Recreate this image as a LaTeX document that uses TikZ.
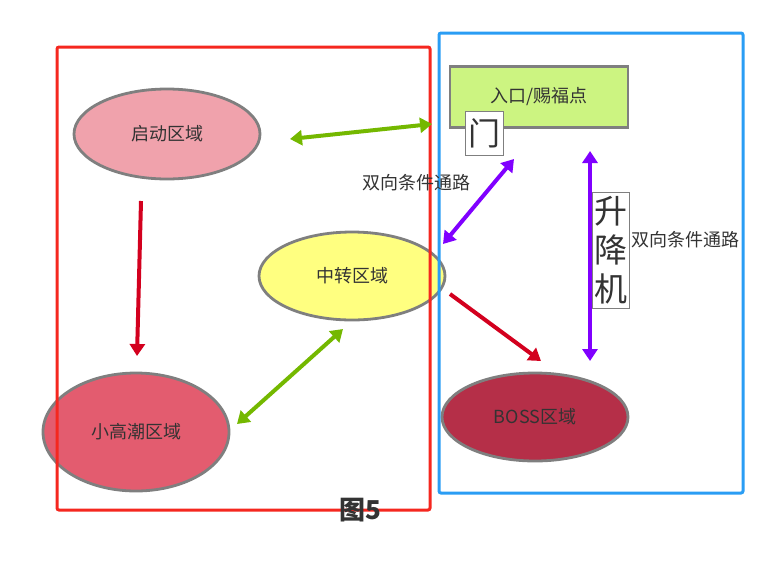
\documentclass[tikz,border=0pt]{standalone}
\usepackage{fontspec}
\setmainfont{Noto Sans CJK SC}
\usetikzlibrary{arrows.meta,shapes.geometric}
\definecolor{frameRed}{HTML}{F5271F}
\definecolor{frameBlue}{HTML}{2A9DF4}
\definecolor{edgeGray}{HTML}{7F7F7F}
\definecolor{txt}{HTML}{333333}
\definecolor{fillStart}{HTML}{F0A2AC}
\definecolor{fillMid}{HTML}{FFFF80}
\definecolor{fillClimax}{HTML}{E35C6F}
\definecolor{fillBoss}{HTML}{B52F48}
\definecolor{fillEntry}{HTML}{CCF481}
\definecolor{arrGreen}{HTML}{74B800}
\definecolor{arrRed}{HTML}{D3001E}
\definecolor{arrPurple}{HTML}{8000FF}
\tikzset{
  region/.style={ellipse, draw=edgeGray, line width=2.8pt, minimum width=186pt, inner sep=0pt,
    text=txt, font=\fontsize{18}{20}\selectfont},
  frame/.style={draw, line width=3pt, rounded corners=2pt},
  labelbox/.style={draw=edgeGray, line width=0.6pt, fill=white, text=txt, inner sep=1.5pt},
  arrowline/.style={line width=4pt},
  headtip/.style={-{Triangle[length=12pt,width=15pt]}},
  bothtip/.style={{Triangle[length=12pt,width=15pt]}-{Triangle[length=12pt,width=15pt]}},
  plain/.style={text=txt, font=\fontsize{18}{20}\selectfont},
}
\begin{document}
\begin{tikzpicture}[x=1pt,y=-1pt]
\useasboundingbox (0,0) rectangle (770,579);
% regions
\node[region, fill=fillStart, minimum height=90pt] (start) at (167,134) {启动区域};
\node[region, fill=fillMid, minimum height=88pt] (mid) at (352,276) {中转区域};
\node[region, fill=fillClimax, minimum height=118pt] (climax) at (136,432) {小高潮区域};
\node[region, fill=fillBoss, minimum height=88pt] (boss) at (535,417) {BOSS区域};
\node[draw=edgeGray, line width=2.8pt, fill=fillEntry, minimum width=178pt, minimum height=61pt,
  text=txt, font=\fontsize{18}{20}\selectfont] (entry) at (539,97) {入口/赐福点};
% frames
\node[frame, draw=frameRed, minimum width=373pt, minimum height=463pt, inner sep=0pt] (redframe) at (243.5,278.5) {};
\node[frame, draw=frameBlue, minimum width=304pt, minimum height=460pt, inner sep=0pt] (blueframe) at (591,263) {};
% label boxes
\node[labelbox, font=\fontsize{32}{34}\selectfont, minimum width=38pt, minimum height=44pt] (door) at (484,133) {门};
\node[plain] (pathA) at (416,183) {双向条件通路};
\node[plain] (pathB) at (685,240) {双向条件通路};
\node[text=txt, font=\fontsize{26}{28}\selectfont\bfseries] (fig) at (360,510) {图5};
% arrow ends
\coordinate (g1a) at (290,139); \coordinate (g1b) at (432,124);
\coordinate (g2a) at (237,424); \coordinate (g2b) at (343,329);
\coordinate (r1a) at (141,201); \coordinate (r1b) at (137,356);
\coordinate (r2a) at (450,294); \coordinate (r2b) at (541,361);
\coordinate (p1a) at (443,244); \coordinate (p1b) at (514,159);
\coordinate (p2a) at (590,361); \coordinate (p2b) at (590,151);
% arrows
\draw[arrowline, arrGreen, bothtip] (g1a) -- (g1b);
\draw[arrowline, arrGreen, bothtip] (g2a) -- (g2b);
\draw[arrowline, arrRed, headtip] (r1a) -- (r1b);
\draw[arrowline, arrRed, headtip] (r2a) -- (r2b);
\draw[arrowline, arrPurple, bothtip] (p1a) -- (p1b);
\draw[arrowline, arrPurple, bothtip] (p2a) -- (p2b);
% lift label on top of the vertical arrow
\node[labelbox, font=\fontsize{33}{39}\selectfont, align=center, minimum width=37pt, minimum height=116pt, inner sep=1pt] (lift) at (610.5,250) {升\\降\\机};
\end{tikzpicture}
\end{document}
